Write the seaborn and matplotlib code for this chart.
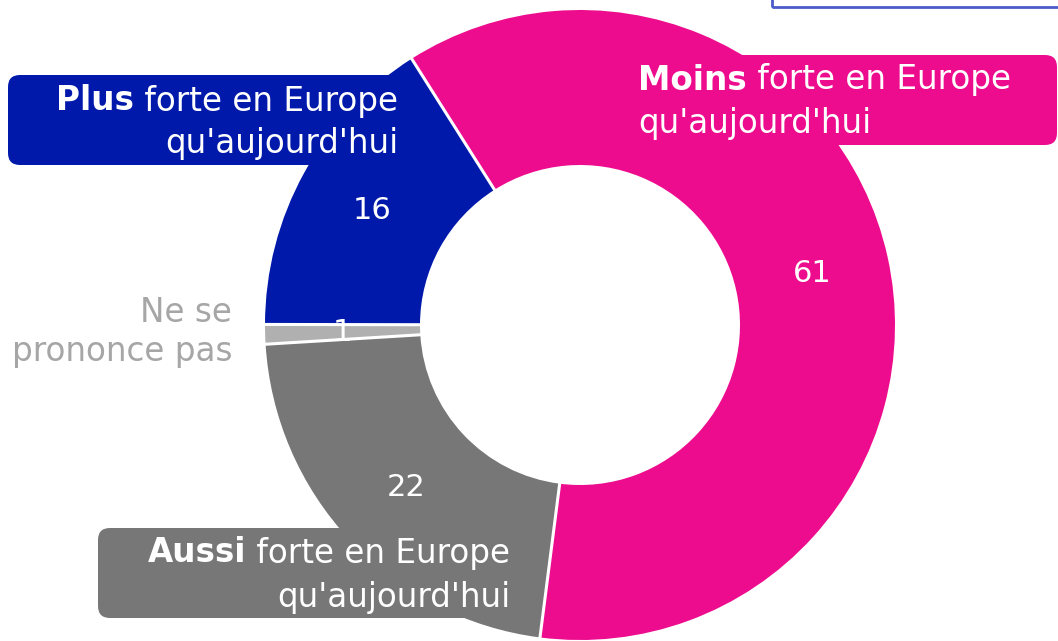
import matplotlib
matplotlib.use("Agg")
import matplotlib.pyplot as plt
import seaborn as sns
import numpy as np
from matplotlib.patches import FancyBboxPatch, Rectangle

sns.set_theme(style="white")
FONT = "DejaVu Sans"
plt.rcParams['font.family'] = [FONT]

# ---- data ----
categories = ["Moins", "Aussi", "Ne se prononce pas", "Plus"]
values = [61, 22, 1, 16]
value_labels = ["61", "22", "1", "16"]
colors = ["#ED0C8E", "#777777", "#B0B0B0", "#0019AA"]

W, H = 1058, 641
fig = plt.figure(figsize=(W / 100, H / 100), dpi=100)
ax = fig.add_axes([0, 0, 1, 1])

def Y(y):
    return H - y

# label boxes (behind donut)
boxes = [
    (8, 75, 430, 165, colors[3]),
    (600, 55, 1057, 145, colors[0]),
    (98, 528, 570, 618, colors[1]),
]
for x0, y0, x1, y1, c in boxes:
    ax.add_patch(FancyBboxPatch((x0, Y(y1)), x1 - x0, y1 - y0,
                                boxstyle="round,pad=0,rounding_size=12",
                                fc=c, ec="none", zorder=1))

cx, cy, R, r_in = 580, 325, 315, 160
START = 122.3
wedges, texts, autotexts = ax.pie(
    values, colors=colors, startangle=START, counterclock=False,
    center=(cx, Y(cy)), radius=R, frame=True,
    wedgeprops=dict(width=R - r_in, edgecolor="none", linewidth=0),
    autopct="%d", pctdistance=(R + r_in) / 2 / R,
    textprops=dict(color="white", fontsize=22),
)
for w in wedges:
    w.set_zorder(2)
for t, lab in zip(autotexts, value_labels):
    t.set_text(lab)
    t.set_zorder(4)

# white separators between wedges
cum = np.concatenate([[0], np.cumsum(values)]) / np.sum(values)
for f in cum[:-1]:
    a = np.deg2rad(START - 360 * f)
    ax.plot([cx + (r_in - 2) * np.cos(a), cx + (R + 2) * np.cos(a)],
            [Y(cy) + (r_in - 2) * np.sin(a), Y(cy) + (R + 2) * np.sin(a)],
            color="white", lw=2.2, zorder=3, solid_capstyle="butt")

ax.set_xlim(0, W)
ax.set_ylim(0, H)
ax.set_aspect("equal")
ax.axis("off")

fig.canvas.draw()
renderer = fig.canvas.get_renderer()
FS = 23.5

def mixed(x, y, bold, rest, align):
    if align == "right":
        t2 = ax.text(x, Y(y), rest, ha="right", va="center", color="white", fontsize=FS, zorder=4)
        bb = t2.get_window_extent(renderer)
        xl = ax.transData.inverted().transform((bb.x0, 0))[0]
        ax.text(xl, Y(y), bold, ha="right", va="center", color="white", fontsize=FS,
                fontweight="bold", zorder=4)
    else:
        t1 = ax.text(x, Y(y), bold, ha="left", va="center", color="white", fontsize=FS,
                     fontweight="bold", zorder=4)
        bb = t1.get_window_extent(renderer)
        xr = ax.transData.inverted().transform((bb.x1, 0))[0]
        ax.text(xr, Y(y), rest, ha="left", va="center", color="white", fontsize=FS, zorder=4)

mixed(398, 101, "Plus", " forte en Europe", "right")
ax.text(398, Y(144), "qu'aujourd'hui", ha="right", va="center", color="white", fontsize=FS, zorder=4)
mixed(638, 80, "Moins", " forte en Europe", "left")
ax.text(638, Y(123), "qu'aujourd'hui", ha="left", va="center", color="white", fontsize=FS, zorder=4)
mixed(510, 553, "Aussi", " forte en Europe", "right")
ax.text(510, Y(597), "qu'aujourd'hui", ha="right", va="center", color="white", fontsize=FS, zorder=4)

ax.text(232, Y(312), "Ne se", ha="right", va="center", color="#A6A6A6", fontsize=FS, zorder=4)
ax.text(232, Y(352), "prononce pas", ha="right", va="center", color="#A6A6A6", fontsize=FS, zorder=4)

# partially visible frame at top right
ax.add_patch(Rectangle((772, Y(7)), 400, 100, fill=False, ec="#4B5CC9", lw=2, zorder=5,
                       clip_on=True))

fig.savefig("out.png", dpi=100)
